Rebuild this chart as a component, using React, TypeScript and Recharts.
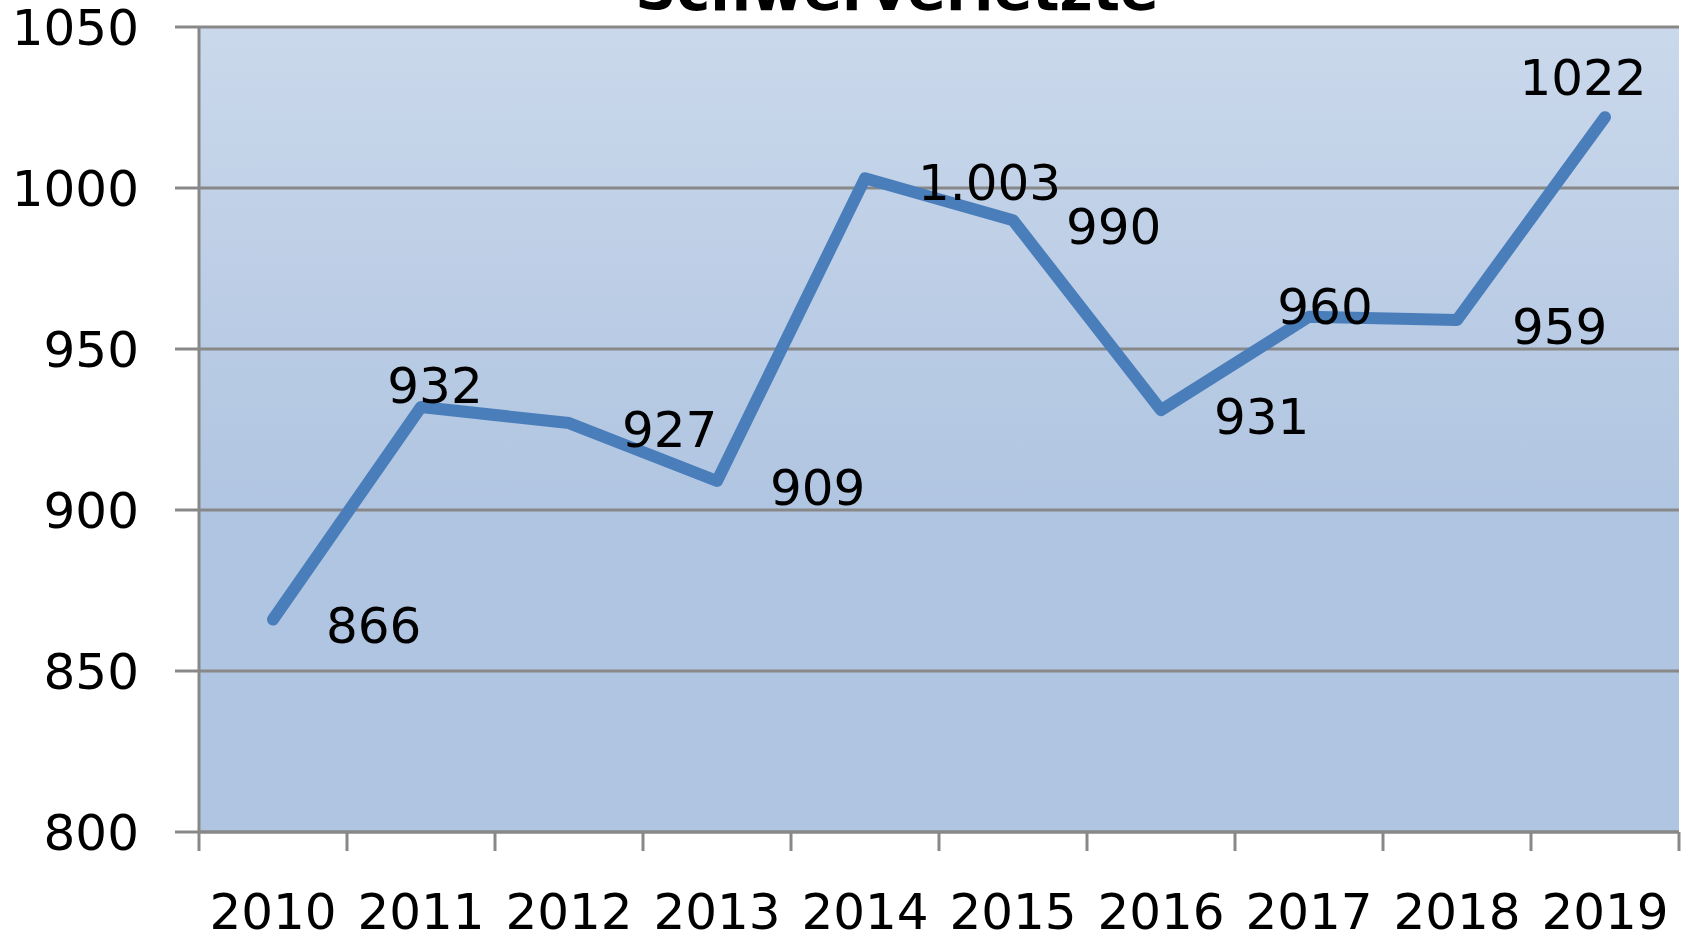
import React from 'react';
import { LineChart, Line, XAxis, YAxis, CartesianGrid, LabelList } from 'recharts';

// ---- data ----
const years = ['2010', '2011', '2012', '2013', '2014', '2015', '2016', '2017', '2018', '2019'];
const seriouslyInjured = [866, 932, 927, 909, 1003, 990, 931, 960, 959, 1022];
const valueLabels = ['866', '932', '927', '909', '1.003', '990', '931', '960', '959', '1022'];
const yTicks = [800, 850, 900, 950, 1000, 1050];
const chartTitle = 'Schwerverletzte';

const data = years.map((year, i) => ({ year, value: seriouslyInjured[i] }));

// ---- layout / style ----
const W = 1688;
const H = 936;
const Y_AXIS_W = 199;
const RIGHT = 9;
const TOP = 27;
const X_AXIS_H = 104;
const BAND = (W - Y_AXIS_W - RIGHT) / years.length;
const GRID = '#888888';
const FONT = '"DejaVu Sans", Verdana, sans-serif';

// label placement per point (style only)
const LABEL_PLACEMENT: { anchor: 'start' | 'middle'; dx: number; dy: number }[] = [
  { anchor: 'start', dx: 53, dy: 24 },
  { anchor: 'middle', dx: 14, dy: -4 },
  { anchor: 'start', dx: 53, dy: 24 },
  { anchor: 'start', dx: 53, dy: 24 },
  { anchor: 'start', dx: 53, dy: 22 },
  { anchor: 'start', dx: 53, dy: 24 },
  { anchor: 'start', dx: 53, dy: 24 },
  { anchor: 'middle', dx: 16, dy: 7 },
  { anchor: 'start', dx: 55, dy: 24 },
  { anchor: 'middle', dx: -22, dy: -22 },
];

const XTick = (props: any) => {
  const { x, y, payload, index } = props;
  const left = x - BAND / 2;
  const right = x + BAND / 2;
  return (
    <g>
      <line x1={left} x2={left} y1={y} y2={y + 19} stroke={GRID} strokeWidth={3} />
      {index === years.length - 1 && (
        <line x1={right} x2={right} y1={y} y2={y + 19} stroke={GRID} strokeWidth={3} />
      )}
      <text x={x} y={y + 97} textAnchor="middle" fontSize={50} fontFamily={FONT} fill="#000">
        {payload.value}
      </text>
    </g>
  );
};

const ValueLabel = (props: any) => {
  const { x, y, index } = props;
  const p = LABEL_PLACEMENT[index];
  return (
    <text
      x={x + p.dx}
      y={y + p.dy}
      textAnchor={p.anchor}
      fontSize={50}
      fontFamily={FONT}
      fill="#000"
    >
      {valueLabels[index]}
    </text>
  );
};

export default function App() {
  return (
    <div style={{ position: 'absolute', left: 0, top: 0, width: W, height: H, background: '#fff' }}>
      <LineChart
        width={W}
        height={H}
        data={data}
        margin={{ top: TOP, right: RIGHT, bottom: 0, left: 0 }}
      >
        <defs>
          <linearGradient id="plotBg" x1="0" y1="0" x2="0" y2="1">
            <stop offset="0" stopColor="#cad8eb" />
            <stop offset="0.6" stopColor="#b0c5e1" />
            <stop offset="1" stopColor="#b0c5e1" />
          </linearGradient>
        </defs>
        <CartesianGrid vertical={false} stroke={GRID} strokeWidth={3} fill="url(#plotBg)" fillOpacity={1} />
        <XAxis
          dataKey="year"
          height={X_AXIS_H}
          interval={0}
          padding={{ left: BAND / 2, right: BAND / 2 }}
          tickSize={0}
          tickMargin={0}
          tickLine={false}
          axisLine={{ stroke: GRID, strokeWidth: 3 }}
          tick={<XTick />}
        />
        <YAxis
          width={Y_AXIS_W}
          domain={[800, 1050]}
          ticks={yTicks}
          interval={0}
          tickSize={24}
          tickMargin={36}
          axisLine={{ stroke: GRID, strokeWidth: 3 }}
          tickLine={{ stroke: GRID, strokeWidth: 3 }}
          tick={{ fill: '#000', fontSize: 50, fontFamily: FONT }}
        />
        <Line
          type="linear"
          dataKey="value"
          stroke="#4a7ebb"
          strokeWidth={12}
          strokeLinecap="round"
          strokeLinejoin="round"
          dot={false}
          activeDot={false}
          isAnimationActive={false}
        >
          <LabelList dataKey="value" content={<ValueLabel />} />
        </Line>
      </LineChart>
      <svg
        width={W}
        height={H}
        style={{ position: 'absolute', left: 0, top: 0, pointerEvents: 'none' }}
      >
        <text
          x={897}
          y={10}
          textAnchor="middle"
          fontSize={57}
          fontWeight="bold"
          fontFamily={FONT}
          fill="#000"
        >
          {chartTitle}
        </text>
      </svg>
    </div>
  );
}
